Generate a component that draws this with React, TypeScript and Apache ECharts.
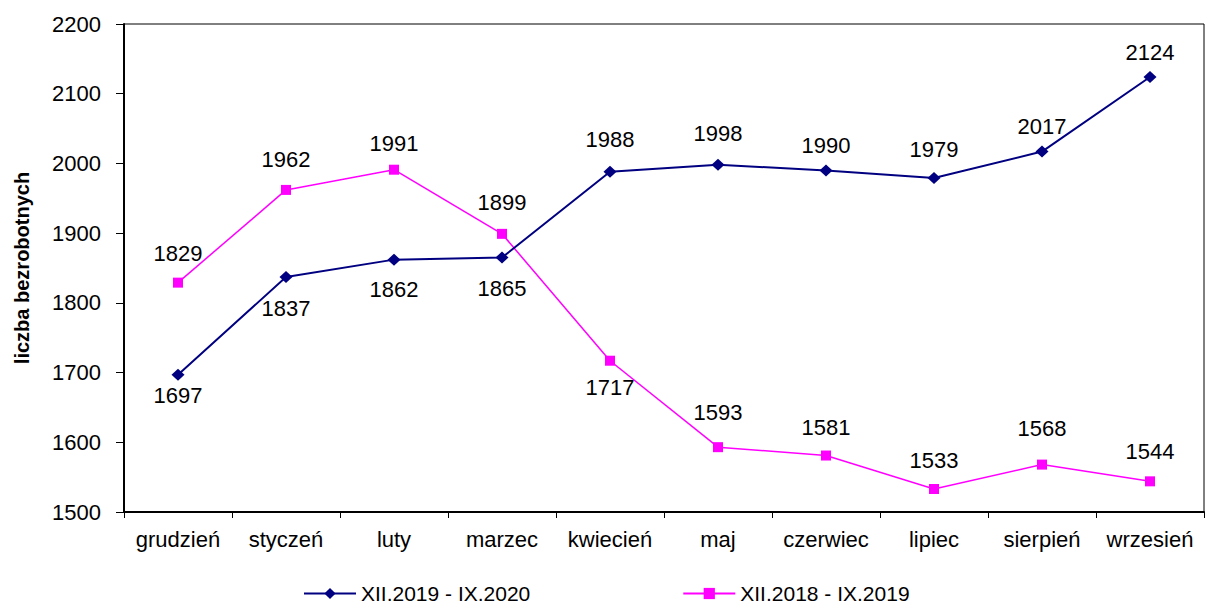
import React, { useEffect, useRef } from "react";
import * as echarts from "echarts";

const categories = ["grudzień", "styczeń", "luty", "marzec", "kwiecień", "maj", "czerwiec", "lipiec", "sierpień", "wrzesień"];
const series2020 = [1697, 1837, 1862, 1865, 1988, 1998, 1990, 1979, 2017, 2124];
const series2019 = [1829, 1962, 1991, 1899, 1717, 1593, 1581, 1533, 1568, 1544];
const name2020 = "XII.2019 - IX.2020";
const name2019 = "XII.2018 - IX.2019";
const yAxisName = "liczba bezrobotnych";

// label placement (style only)
const pos2020 = ["bottom", "bottom", "bottom", "bottom", "top", "top", "top", "top", "top", "top"];
const dist2020 = [4, 14, 13, 14, 15, 14, 8, 12, 8, 7];
const pos2019 = ["top", "top", "top", "top", "bottom", "top", "top", "top", "top", "top"];
const dist2019 = [13, 14, 10, 15, 11, 19, 12, 12, 20, 14];

const FONT = "Arial, 'Liberation Sans', sans-serif";

export default function App() {
  const ref = useRef<HTMLDivElement>(null);
  useEffect(() => {
    document.body.style.margin = "0";
    if (!ref.current) return;
    const chart = echarts.init(ref.current, undefined, { renderer: "svg" });
    const labelStyle = { color: "#000", fontSize: 22, fontFamily: FONT };
    chart.setOption({
      animation: false,
      backgroundColor: "#fff",
      textStyle: { fontFamily: FONT },
      grid: {
        left: 124,
        right: 1,
        top: 24,
        bottom: 93,
        show: true,
        borderColor: "#000",
        borderWidth: 1,
        backgroundColor: "transparent",
      },
      legend: {
        left: 298,
        top: 578,
        itemWidth: 52,
        itemHeight: 14,
        itemGap: 152,
        textStyle: { color: "#000", fontSize: 21, fontFamily: FONT },
        data: [name2020, name2019],
      },
      xAxis: {
        type: "category",
        data: categories,
        boundaryGap: true,
        axisLine: { lineStyle: { color: "#000", width: 2 } },
        axisTick: { show: true, length: 6, lineStyle: { color: "#000" } },
        axisLabel: { color: "#000", fontSize: 22, fontFamily: FONT, margin: 16, interval: 0 },
        splitLine: { show: false },
      },
      yAxis: {
        type: "value",
        min: 1500,
        max: 2200,
        interval: 100,
        name: yAxisName,
        nameLocation: "middle",
        nameGap: 92,
        nameTextStyle: { color: "#000", fontSize: 20, fontWeight: "bold", fontFamily: FONT },
        axisLine: { show: true, lineStyle: { color: "#000", width: 2 } },
        axisTick: { show: true, length: 8, lineStyle: { color: "#000" } },
        axisLabel: {
          color: "#000",
          fontSize: 22,
          fontFamily: FONT,
          margin: 23,
          formatter: (v: number) => String(v),
        },
        splitLine: { show: false },
      },
      series: [
        {
          name: name2020,
          type: "line",
          data: series2020.map((v, i) => ({
            value: v,
            label: { position: pos2020[i], distance: dist2020[i] },
          })),
          symbol: "diamond",
          symbolSize: [13, 12],
          lineStyle: { color: "#000080", width: 2 },
          itemStyle: { color: "#000080" },
          label: { show: true, ...labelStyle },
          z: 3,
        },
        {
          name: name2019,
          type: "line",
          data: series2019.map((v, i) => ({
            value: v,
            label: { position: pos2019[i], distance: dist2019[i] },
          })),
          symbol: "rect",
          symbolSize: 10,
          lineStyle: { color: "#FF00FF", width: 1.5 },
          itemStyle: { color: "#FF00FF" },
          label: { show: true, ...labelStyle },
          z: 2,
        },
      ],
    });
    return () => chart.dispose();
  }, []);
  return <div ref={ref} style={{ width: 1205, height: 605 }} />;
}
